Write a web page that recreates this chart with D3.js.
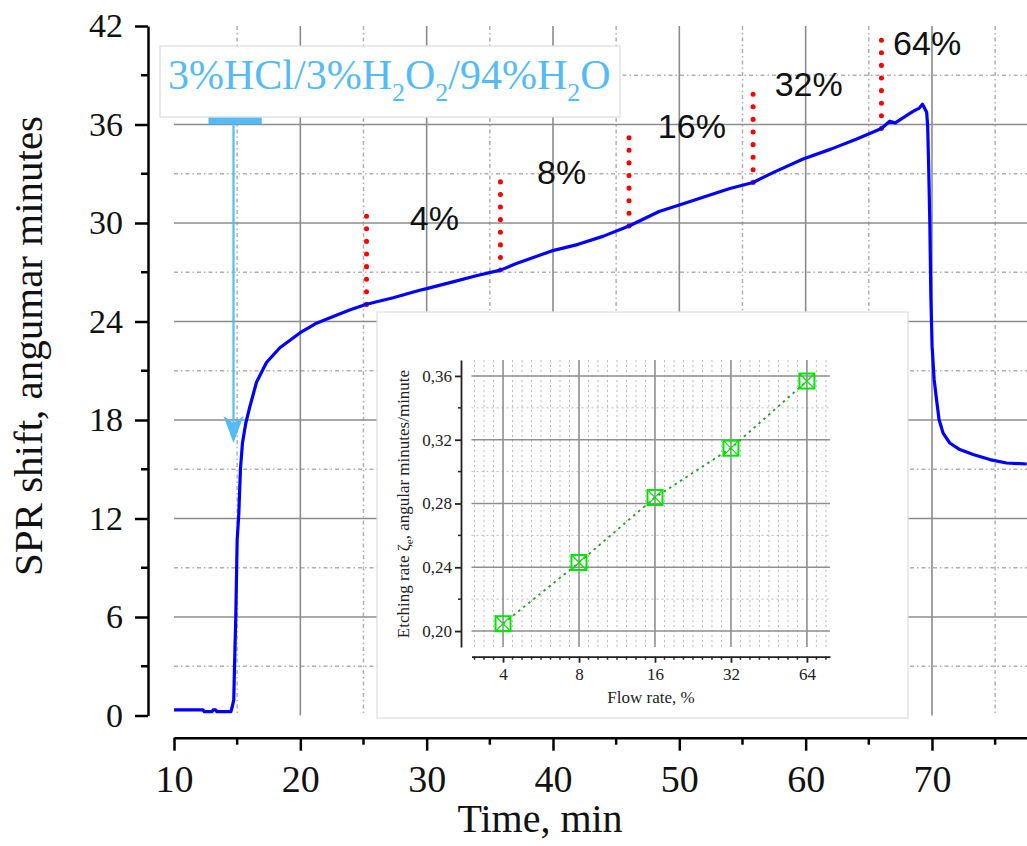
<!DOCTYPE html>
<html>
<head>
<meta charset="utf-8">
<script src="https://cdn.jsdelivr.net/npm/d3@7"></script>
<style>
  body { margin: 0; background: #fff; }
  svg { display: block; }
</style>
</head>
<body>
<svg id="chart" width="1027" height="846"></svg>
<script>
// SPR curve
var curveTime = [10.0, 12.3, 12.4, 13.0, 13.1, 13.3, 13.4, 14.5, 14.6, 14.73, 14.81, 14.89, 15.0, 15.13,
  15.26, 15.42, 15.68, 16.0, 16.53, 17.32, 18.38, 19.96, 21.28, 22.6, 23.9, 25.24, 27.35, 29.45, 30.0,
  32.0, 34.0, 35.84, 37.0, 39.9, 42.0, 44.0, 46.02, 48.4, 50.0, 52.0, 54.0, 55.84, 57.5, 59.8, 62.0,
  64.0, 66.0, 66.65, 67.1, 67.7, 68.5, 69.0, 69.25, 69.58, 69.66, 69.73, 69.83, 69.91, 70.01, 70.17,
  70.36, 70.56, 70.88, 71.41, 72.2, 73.26, 74.58, 75.9, 77.5]
var curveShift = [0.34, 0.34, 0.23, 0.23, 0.34, 0.34, 0.23, 0.23, 0.5, 0.95, 3.6, 6.0, 10.7, 12.3,
  15.0, 16.6, 17.8, 18.8, 20.3, 21.5, 22.4, 23.3, 23.9, 24.3, 24.7, 25.05, 25.45, 25.9, 26.0,
  26.4, 26.8, 27.13, 27.5, 28.3, 28.7, 29.2, 29.82, 30.7, 31.1, 31.6, 32.1, 32.47, 33.1, 33.9, 34.5,
  35.1, 35.76, 36.2, 36.1, 36.4, 36.8, 37.0, 37.24, 36.75, 35.9, 33.7, 30.04, 25.55, 22.5, 20.47,
  19.25, 18.03, 17.2, 16.6, 16.2, 15.9, 15.59, 15.38, 15.32]

// flow rate markers on the curve
var rateLabels = ["4%", "8%", "16%", "32%", "64%"]
var markerTime = [25.24, 35.84, 46.02, 55.84, 66.0]
var markerBottom = [25.04, 27.13, 29.82, 32.47, 35.76]
var markerTop = [30.5, 32.56, 35.5, 37.85, 41.2]
var labelTime = [28.67, 38.74, 48.3, 57.55, 66.92]
var labelValue = [29.6, 32.36, 35.2, 37.75, 40.23]

// inset data
var flowRate = [4, 8, 16, 32, 64]
var etchRate = [0.2046, 0.243, 0.2838, 0.3147, 0.3568]

var xTicks = [10, 20, 30, 40, 50, 60, 70]
var yTicks = [0, 6, 12, 18, 24, 30, 36, 42]
var insetYTicks = [0.20, 0.24, 0.28, 0.32, 0.36]

var svg = d3.select("#chart")
var serif = "'Liberation Serif', 'Times New Roman', serif"
var sans = "'Liberation Sans', Arial, sans-serif"

var xScale = d3.scaleLinear().domain([10, 78]).range([174, 174 + 68 * 12.633])
var yScale = d3.scaleLinear().domain([0, 42]).range([715.5, 26])

var xMinor = d3.range(15, 80, 10)
var yMinor = d3.range(3, 42, 6)

// grid
var grid = svg.append("g").attr("id", "grid")
grid.selectAll(".vmin").data(xMinor).enter().append("line")
  .attr("x1", function(d){ return xScale(d) }).attr("x2", function(d){ return xScale(d) })
  .attr("y1", yScale(42)).attr("y2", yScale(0))
  .attr("stroke", "#b0b0b0").attr("stroke-width", 1.5).attr("stroke-dasharray", "4 3 1.5 3")
grid.selectAll(".hmin").data(yMinor).enter().append("line")
  .attr("y1", function(d){ return yScale(d) }).attr("y2", function(d){ return yScale(d) })
  .attr("x1", xScale(10)).attr("x2", 1027)
  .attr("stroke", "#b0b0b0").attr("stroke-width", 1.5).attr("stroke-dasharray", "4 3 1.5 3")
grid.selectAll(".vmaj").data(xTicks.slice(1)).enter().append("line")
  .attr("x1", function(d){ return xScale(d) }).attr("x2", function(d){ return xScale(d) })
  .attr("y1", yScale(42)).attr("y2", yScale(0))
  .attr("stroke", "#8c8c8c").attr("stroke-width", 1.6)
grid.selectAll(".hmaj").data(yTicks.slice(1, -1)).enter().append("line")
  .attr("y1", function(d){ return yScale(d) }).attr("y2", function(d){ return yScale(d) })
  .attr("x1", xScale(10)).attr("x2", 1027)
  .attr("stroke", "#8c8c8c").attr("stroke-width", 1.6)

// axes
var xAxis = d3.axisBottom(xScale).tickValues(xTicks).tickSize(13).tickSizeOuter(0).tickPadding(14)
var yAxis = d3.axisLeft(yScale).tickValues(yTicks).tickSize(13).tickSizeOuter(0).tickPadding(12)

var gx = svg.append("g").attr("transform", "translate(0,737.7)").call(xAxis)
var gy = svg.append("g").attr("transform", "translate(148,0)").call(yAxis)
gx.selectAll("text").attr("font-family", serif).attr("font-size", 38).attr("fill", "#111")
gy.selectAll("text").attr("font-family", serif).attr("font-size", 34).attr("fill", "#111")
gx.selectAll("line, path").attr("stroke", "#000").attr("stroke-width", 2.5)
gy.selectAll("line, path").attr("stroke", "#000").attr("stroke-width", 2.5)

gx.selectAll(".minor").data(xMinor.filter(function(d){ return d < 78 })).enter().append("line")
  .attr("x1", function(d){ return xScale(d) }).attr("x2", function(d){ return xScale(d) })
  .attr("y1", 0).attr("y2", 7).attr("stroke", "#000").attr("stroke-width", 2.5)
gy.selectAll(".minor").data(yMinor).enter().append("line")
  .attr("y1", function(d){ return yScale(d) }).attr("y2", function(d){ return yScale(d) })
  .attr("x1", 0).attr("x2", -7).attr("stroke", "#000").attr("stroke-width", 2.5)

svg.append("text").text("Time, min")
  .attr("x", 540).attr("y", 831.7).attr("text-anchor", "middle")
  .attr("font-family", serif).attr("font-size", 40).attr("fill", "#111")
svg.append("text").text("SPR shift, angumar minutes")
  .attr("transform", "translate(42,346) rotate(-90)").attr("text-anchor", "middle")
  .attr("font-family", serif).attr("font-size", 41).attr("fill", "#111")

// red dotted markers
svg.append("g").selectAll("line").data(markerTime).enter().append("line")
  .attr("x1", function(d){ return xScale(d) }).attr("x2", function(d){ return xScale(d) })
  .attr("y1", function(d, i){ return yScale(markerBottom[i]) })
  .attr("y2", function(d, i){ return yScale(markerTop[i]) })
  .attr("stroke", "#ff0000").attr("stroke-width", 5)
  .attr("stroke-linecap", "round").attr("stroke-dasharray", "0.1 12.5")

// curve
var line = d3.line()
  .x(function(d, i){ return xScale(curveTime[i]) })
  .y(function(d){ return yScale(d) })
svg.append("path").datum(curveShift)
  .attr("d", line).attr("fill", "none")
  .attr("stroke", "#0000ff").attr("stroke-width", 3.2).attr("stroke-linejoin", "round")

// percent labels
svg.append("g").selectAll("text").data(rateLabels).enter().append("text")
  .text(function(d){ return d })
  .attr("x", function(d, i){ return xScale(labelTime[i]) })
  .attr("y", function(d, i){ return yScale(labelValue[i]) })
  .attr("font-family", sans).attr("font-size", 34).attr("fill", "#111")

// solution annotation
var arrowT = 14.71, arrowFrom = 36.2, arrowTo = 16.6
var blue = "#55bbf7"
svg.append("line")
  .attr("x1", xScale(arrowT)).attr("x2", xScale(arrowT))
  .attr("y1", yScale(arrowFrom)).attr("y2", yScale(arrowTo) - 20)
  .attr("stroke", blue).attr("stroke-width", 2.2)
svg.append("rect")
  .attr("x", xScale(12.73)).attr("y", yScale(arrowFrom) - 4)
  .attr("width", xScale(16.95) - xScale(12.73)).attr("height", 7)
  .attr("fill", blue)
var ax = xScale(arrowT), ay = yScale(arrowTo)
svg.append("path")
  .attr("d", "M" + ax + "," + ay + " L" + (ax - 10) + "," + (ay - 27) + " L" + ax + "," + (ay - 20) +
    " L" + (ax + 10) + "," + (ay - 27) + " Z")
  .attr("fill", blue)

svg.append("rect").attr("x", 160).attr("y", 46).attr("width", 460).attr("height", 71)
  .attr("fill", "#fff").attr("stroke", "#dcdcdc").attr("stroke-width", 1.2)
var sol = svg.append("text").attr("x", 168).attr("y", 89)
  .attr("font-family", serif).attr("font-size", 42).attr("fill", blue)
var parts = [["3%HCl/3%H", 0], ["2", 1], ["O", 0], ["2", 1], ["/94%H", 0], ["2", 1], ["O", 0]]
parts.forEach(function(p, i){
  var prevSub = i > 0 && parts[i - 1][1] == 1
  sol.append("tspan").text(p[0])
    .attr("font-size", p[1] ? 26 : 42)
    .attr("dy", p[1] ? 12 : (prevSub ? -12 : 0))
})

// inset
svg.append("rect").attr("x", 377).attr("y", 312).attr("width", 531).attr("height", 406)
  .attr("fill", "#fff").attr("stroke", "#dedede").attr("stroke-width", 1.2)

var ix = d3.scaleLog().base(2).domain([3, 79]).range([471.5, 830])
var iy = d3.scaleLinear().domain([0.19, 0.37]).range([647, 360])

var ixMinor = d3.range(Math.ceil(8 * Math.log2(3)), Math.floor(8 * Math.log2(79)) + 1)
  .map(function(j){ return Math.pow(2, j / 8) })
  .filter(function(v){ return flowRate.indexOf(Math.round(v * 1000) / 1000) < 0 })
var iyMinor = [0.22, 0.26, 0.30, 0.34]

var ig = svg.append("g")
ig.selectAll(".vmin").data(ixMinor).enter().append("line")
  .attr("x1", function(d){ return ix(d) }).attr("x2", function(d){ return ix(d) })
  .attr("y1", 360).attr("y2", 647)
  .attr("stroke", "#bbb").attr("stroke-width", 1).attr("stroke-dasharray", "2 3")
ig.selectAll(".hmin").data(iyMinor).enter().append("line")
  .attr("y1", function(d){ return iy(d) }).attr("y2", function(d){ return iy(d) })
  .attr("x1", 471.5).attr("x2", 830)
  .attr("stroke", "#bbb").attr("stroke-width", 1).attr("stroke-dasharray", "2 3")
ig.selectAll(".vmaj").data(flowRate).enter().append("line")
  .attr("x1", function(d){ return ix(d) }).attr("x2", function(d){ return ix(d) })
  .attr("y1", 360).attr("y2", 647)
  .attr("stroke", "#8f8f8f").attr("stroke-width", 1.6)
ig.selectAll(".hmaj").data(insetYTicks).enter().append("line")
  .attr("y1", function(d){ return iy(d) }).attr("y2", function(d){ return iy(d) })
  .attr("x1", 471.5).attr("x2", 830)
  .attr("stroke", "#8f8f8f").attr("stroke-width", 1.6)

var ixAxis = d3.axisBottom(ix).tickValues(flowRate).tickFormat(d3.format("d"))
  .tickSize(6).tickSizeOuter(0).tickPadding(5)
var iyAxis = d3.axisLeft(iy).tickValues(insetYTicks)
  .tickFormat(function(d){ return d3.format(".2f")(d).replace(".", ",") })
  .tickSize(6).tickSizeOuter(0).tickPadding(3)
var gix = svg.append("g").attr("transform", "translate(0,656.7)").call(ixAxis)
var giy = svg.append("g").attr("transform", "translate(461,0)").call(iyAxis)
gix.selectAll("text").attr("font-family", serif).attr("font-size", 17).attr("fill", "#222")
giy.selectAll("text").attr("font-family", serif).attr("font-size", 17).attr("fill", "#222")
gix.selectAll("line, path").attr("stroke", "#222").attr("stroke-width", 1.8)
giy.selectAll("line, path").attr("stroke", "#222").attr("stroke-width", 1.8)
gix.selectAll(".minor").data(ixMinor).enter().append("line")
  .attr("x1", function(d){ return ix(d) }).attr("x2", function(d){ return ix(d) })
  .attr("y1", 0).attr("y2", 3).attr("stroke", "#222").attr("stroke-width", 1.5)
giy.selectAll(".minor").data(iyMinor).enter().append("line")
  .attr("y1", function(d){ return iy(d) }).attr("y2", function(d){ return iy(d) })
  .attr("x1", 0).attr("x2", -3).attr("stroke", "#222").attr("stroke-width", 1.5)

svg.append("text").text("Flow rate, %")
  .attr("x", 651).attr("y", 703).attr("text-anchor", "middle")
  .attr("font-family", serif).attr("font-size", 17).attr("fill", "#222")
var ylab = svg.append("text")
  .attr("transform", "translate(409,504) rotate(-90)").attr("text-anchor", "middle")
  .attr("font-family", serif).attr("font-size", 17).attr("fill", "#222")
ylab.append("tspan").text("Etching rate ζ")
ylab.append("tspan").text("e").attr("font-size", 11).attr("dy", 4)
ylab.append("tspan").text(", angular minutes/minute").attr("dy", -4)

// fit line and markers
var iline = d3.line()
  .x(function(d, i){ return ix(flowRate[i]) })
  .y(function(d){ return iy(d) })
svg.append("path").datum(etchRate).attr("d", iline).attr("fill", "none")
  .attr("stroke", "#239b23").attr("stroke-width", 1.8).attr("stroke-dasharray", "2.5 4")

var mk = svg.append("g").selectAll("g").data(etchRate).enter().append("g")
  .attr("transform", function(d, i){ return "translate(" + ix(flowRate[i]) + "," + iy(d) + ")" })
mk.append("rect").attr("x", -7.5).attr("y", -7.5).attr("width", 15).attr("height", 15)
  .attr("fill", "none").attr("stroke", "#00e600").attr("stroke-width", 2)
mk.append("path").attr("d", "M-7.5,-7.5L7.5,7.5M7.5,-7.5L-7.5,7.5")
  .attr("stroke", "#00e600").attr("stroke-width", 1.2)
</script>
</body>
</html>
